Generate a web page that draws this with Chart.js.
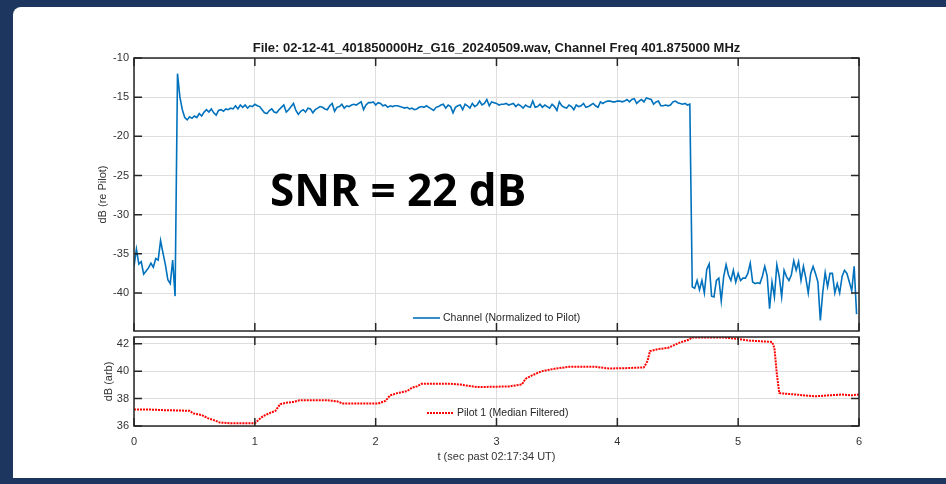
<!DOCTYPE html>
<html>
<head>
<meta charset="utf-8">
<script src="https://cdn.jsdelivr.net/npm/chart.js@4.4.1/dist/chart.umd.min.js"></script>
<style>
html, body { margin: 0; padding: 0; }
body {
    width: 946px; height: 484px; position: relative; overflow: hidden;
    background: #1c365f;
    font-family: "Liberation Sans", Arial, sans-serif;
}
#panel {
    position: absolute; left: 13px; top: 7px; width: 933px; height: 471px;
    background: #fff; border-top-left-radius: 8px;
}
canvas { position: absolute; left: 0; top: 0; }
.title {
    position: absolute; left: 134px; width: 725px; top: 41px;
    text-align: center; font-weight: bold; font-size: 13px; line-height: 13px;
    color: #1a1a1a; white-space: nowrap;
}
.snr {
    position: absolute; left: 270px; top: 167px;
    font-family: "Open Sans", sans-serif; font-weight: bold;
    font-size: 44px; line-height: 44px; color: #000; white-space: nowrap;
}
</style>
</head>
<body>
<div id="panel"></div>
<canvas id="chanChart" width="946" height="484"></canvas>
<canvas id="pilotChart" width="946" height="484"></canvas>
<div class="title">File: 02-12-41_401850000Hz_G16_20240509.wav, Channel Freq 401.875000 MHz</div>
<div class="snr">SNR = 22 dB</div>
<script>
// time axis ticks (seconds), shared by both panels
const xTicks = [0, 1, 2, 3, 4, 5, 6];
const chanTicks = [-40, -35, -30, -25, -20, -15, -10];
const pilotTicks = [36, 38, 40, 42];

// Channel (normalized to pilot), dB, sampled every CH_DT seconds from t = 0
const CH_DT = 0.02;
const channelDb = [
    -36.6, -34.4, -36.3, -36.0, -37.6, -37.2, -36.8, -36.2, -36.7, -35.6, // 0.00
    -35.8, -33.3, -34.9, -36.4, -38.3, -38.8, -35.8, -40.4, -12.0, -15.0, // 0.20
    -16.6, -17.6, -17.9, -17.5, -17.7, -17.4, -17.6, -17.1, -17.4, -16.9, // 0.40
    -16.6, -16.9, -16.5, -17.0, -17.3, -16.7, -16.6, -16.8, -16.5, -16.6, // 0.60
    -16.4, -16.5, -16.1, -16.5, -16.0, -16.3, -16.0, -16.4, -16.1, -16.2, // 0.80
    -15.9, -16.1, -16.2, -16.6, -17.0, -17.1, -16.7, -16.5, -16.9, -17.0, // 1.00
    -16.6, -16.3, -16.0, -16.9, -16.6, -16.2, -15.8, -16.7, -17.2, -16.8, // 1.20
    -16.6, -16.9, -16.4, -16.5, -17.0, -16.6, -16.4, -16.2, -16.3, -16.5, // 1.40
    -16.6, -16.1, -15.8, -16.8, -16.3, -16.2, -15.9, -16.4, -16.1, -16.2, // 1.60
    -16.0, -15.9, -16.0, -15.8, -15.6, -16.6, -16.0, -15.7, -15.7, -15.6, // 1.80
    -16.0, -15.7, -15.8, -16.1, -16.0, -16.3, -16.1, -16.2, -16.1, -16.1, // 2.00
    -16.2, -16.3, -16.4, -16.3, -16.5, -16.4, -16.6, -16.5, -16.3, -16.2, // 2.20
    -16.3, -16.1, -16.3, -16.5, -16.7, -16.3, -16.2, -16.0, -15.9, -16.4, // 2.40
    -16.0, -16.2, -17.0, -16.3, -16.1, -16.0, -16.6, -15.9, -16.1, -16.4, // 2.60
    -15.8, -16.2, -16.0, -15.5, -16.0, -15.8, -15.3, -16.1, -15.6, -15.7, // 2.80
    -15.8, -16.0, -15.9, -15.9, -15.8, -16.0, -15.9, -15.8, -16.2, -15.9, // 3.00
    -16.1, -16.4, -16.0, -16.2, -16.3, -15.5, -16.3, -16.2, -15.9, -16.3, // 3.20
    -16.0, -16.2, -16.4, -15.9, -16.2, -16.7, -15.6, -16.1, -16.3, -16.4, // 3.40
    -16.0, -16.2, -16.6, -16.0, -16.2, -16.1, -15.8, -16.3, -16.2, -16.0, // 3.60
    -15.8, -16.1, -16.3, -15.6, -15.8, -15.6, -15.5, -15.5, -15.6, -15.6, // 3.80
    -15.5, -15.5, -15.6, -15.5, -15.3, -15.6, -15.3, -15.2, -15.8, -15.5, // 4.00
    -15.3, -15.6, -15.1, -15.2, -15.3, -15.9, -15.6, -15.5, -16.1, -16.1, // 4.20
    -16.0, -16.1, -16.0, -15.6, -15.5, -15.7, -15.8, -15.9, -15.8, -16.0, // 4.40
    -15.9, -39.2, -39.4, -38.4, -39.6, -38.4, -40.0, -37.0, -36.3, -40.4, // 4.60
    -40.5, -38.4, -38.1, -41.0, -37.9, -36.4, -37.7, -38.4, -37.1, -38.6, // 4.80
    -37.5, -38.4, -38.1, -38.1, -37.5, -36.2, -38.6, -38.8, -38.7, -38.8, // 5.00
    -37.9, -36.6, -37.8, -42.0, -38.6, -40.5, -36.4, -37.9, -40.5, -37.1, // 5.20
    -37.9, -38.4, -37.7, -35.9, -37.1, -36.0, -38.4, -36.6, -38.1, -40.0, // 5.40
    -37.5, -36.6, -37.5, -38.6, -43.5, -39.9, -37.4, -39.2, -37.5, -37.5, // 5.60
    -40.0, -38.8, -40.0, -37.9, -37.1, -37.5, -38.6, -39.7, -36.6, -42.7  // 5.80
];

// Pilot 1 (median filtered), dB (arb)
const pilotT = [
    0, 0.13, 0.24, 0.46, 0.49, 0.56, 0.615, 0.67, 0.71, 0.8,
    1.0, 1.03, 1.07, 1.13, 1.17, 1.21, 1.26, 1.32, 1.37, 1.6,
    1.68, 1.73, 2.02, 2.08, 2.12, 2.18, 2.26, 2.3, 2.34, 2.38,
    2.62, 2.7, 2.75, 2.84, 3.1, 3.21, 3.24, 3.29, 3.37, 3.49,
    3.6, 3.82, 3.93, 4.09, 4.22, 4.25, 4.27, 4.34, 4.42, 4.51,
    4.59, 4.62, 4.87, 4.98, 5.09, 5.28, 5.30, 5.32, 5.34, 5.39,
    5.47, 5.64, 5.75, 5.86, 5.94, 6.0
];
const pilotDb = [
    37.21, 37.2, 37.16, 37.11, 36.92, 36.8, 36.56, 36.4, 36.25, 36.2,
    36.2, 36.44, 36.73, 36.97, 37.1, 37.6, 37.7, 37.76, 37.88, 37.88,
    37.8, 37.64, 37.64, 37.83, 38.24, 38.4, 38.55, 38.79, 38.89, 39.08,
    39.08, 39.03, 38.96, 38.84, 38.89, 39.03, 39.44, 39.68, 39.99, 40.2,
    40.32, 40.32, 40.2, 40.23, 40.28, 40.75, 41.47, 41.62, 41.71, 42.07,
    42.3, 42.47, 42.47, 42.38, 42.24, 42.14, 41.7, 39.8, 38.4, 38.36,
    38.3, 38.17, 38.24, 38.3, 38.24, 38.3
];

const FONT = '"Liberation Sans", Arial, sans-serif';
const AX_COLOR = '#262626';
const GRID_COLOR = '#dedede';

// MATLAB-style box with inward ticks on all four sides
const boxPlugin = {
    id: 'matlabBox',
    afterDraw(chart) {
        const { ctx, chartArea: a, scales } = chart;
        const tl = 8;
        ctx.save();
        ctx.strokeStyle = AX_COLOR;
        ctx.lineWidth = 1.5;
        ctx.beginPath();
        scales.x.ticks.forEach(t => {
            const px = scales.x.getPixelForValue(t.value);
            ctx.moveTo(px, a.bottom); ctx.lineTo(px, a.bottom - tl);
            ctx.moveTo(px, a.top); ctx.lineTo(px, a.top + tl);
        });
        scales.y.ticks.forEach(t => {
            const py = scales.y.getPixelForValue(t.value);
            ctx.moveTo(a.left, py); ctx.lineTo(a.left + tl, py);
            ctx.moveTo(a.right, py); ctx.lineTo(a.right - tl, py);
        });
        ctx.stroke();
        ctx.strokeRect(a.left, a.top, a.right - a.left, a.bottom - a.top);
        ctx.restore();
    }
};

// legend drawn inside the axes, no box
const inlineLegend = {
    id: 'inlineLegend',
    afterDraw(chart, args, opts) {
        const ds = chart.data.datasets[0];
        const ctx = chart.ctx;
        ctx.save();
        ctx.strokeStyle = ds.borderColor;
        ctx.lineWidth = ds.borderWidth;
        ctx.setLineDash(ds.borderDash || []);
        ctx.beginPath();
        ctx.moveTo(opts.x, opts.y);
        ctx.lineTo(opts.x + opts.len, opts.y);
        ctx.stroke();
        ctx.setLineDash([]);
        ctx.fillStyle = AX_COLOR;
        ctx.font = '10.5px ' + FONT;
        ctx.textBaseline = 'middle';
        ctx.fillText(ds.label, opts.x + opts.len + 3, opts.y + 0.5);
        ctx.restore();
    }
};

function setTicks(list) {
    return scale => { scale.ticks = list.map(v => ({ value: v })); };
}

const tickFont = { family: FONT, size: 11 };

function initChannelChart() {
    const data = channelDb.map((v, i) => ({ x: i * CH_DT, y: v }));
    new Chart(document.getElementById('chanChart'), {
        type: 'line',
        data: {
            datasets: [{
                label: 'Channel (Normalized to Pilot)',
                data: data,
                borderColor: '#0072bd',
                borderWidth: 1.6,
                pointRadius: 0,
                tension: 0
            }]
        },
        options: {
            responsive: false,
            animation: false,
            devicePixelRatio: 1,
            layout: { padding: { left: 0, top: 58, right: 87, bottom: 153 } },
            plugins: {
                legend: { display: false },
                tooltip: { enabled: false },
                inlineLegend: { x: 413, y: 318, len: 27 }
            },
            scales: {
                x: {
                    type: 'linear', min: 0, max: 6,
                    afterBuildTicks: setTicks(xTicks),
                    afterFit: s => { s.height = 0; },
                    ticks: { display: false },
                    grid: { color: GRID_COLOR, drawTicks: false },
                    border: { display: false }
                },
                y: {
                    min: -44.85, max: -10,
                    afterBuildTicks: setTicks(chanTicks),
                    afterFit: s => { s.width = 134; },
                    ticks: { font: tickFont, color: '#333', padding: 5 },
                    grid: { color: GRID_COLOR, drawTicks: false },
                    border: { display: false },
                    title: {
                        display: true, text: 'dB (re Pilot)', color: '#333',
                        font: tickFont, padding: { top: 96, bottom: 0 }
                    }
                }
            }
        },
        plugins: [boxPlugin, inlineLegend]
    });
}

function initPilotChart() {
    const data = pilotT.map((t, i) => ({ x: t, y: pilotDb[i] }));
    new Chart(document.getElementById('pilotChart'), {
        type: 'line',
        data: {
            datasets: [{
                label: 'Pilot 1 (Median Filtered)',
                data: data,
                borderColor: '#ff0000',
                borderWidth: 2,
                borderDash: [2, 1],
                pointRadius: 0,
                tension: 0
            }]
        },
        options: {
            responsive: false,
            animation: false,
            devicePixelRatio: 1,
            layout: { padding: { left: 0, top: 337, right: 87, bottom: 0 } },
            plugins: {
                legend: { display: false },
                tooltip: { enabled: false },
                inlineLegend: { x: 427, y: 413, len: 27 }
            },
            scales: {
                x: {
                    type: 'linear', min: 0, max: 6,
                    afterBuildTicks: setTicks(xTicks),
                    afterFit: s => { s.height = 58; },
                    ticks: { font: tickFont, color: '#333', padding: 9, maxRotation: 0 },
                    grid: { color: GRID_COLOR, drawTicks: false },
                    border: { display: false },
                    title: {
                        display: true, text: 't (sec past 02:17:34 UT)', color: '#333',
                        font: tickFont, padding: { top: 0, bottom: 20 }
                    }
                },
                y: {
                    min: 36, max: 42.5,
                    afterBuildTicks: setTicks(pilotTicks),
                    afterFit: s => { s.width = 134; },
                    ticks: { font: tickFont, color: '#333', padding: 5 },
                    grid: { color: GRID_COLOR, drawTicks: false },
                    border: { display: false },
                    title: {
                        display: true, text: 'dB (arb)', color: '#333',
                        font: tickFont, padding: { top: 102, bottom: 0 }
                    }
                }
            }
        },
        plugins: [boxPlugin, inlineLegend]
    });
}

window.onload = () => {
    initChannelChart();
    initPilotChart();
};
</script>
</body>
</html>
